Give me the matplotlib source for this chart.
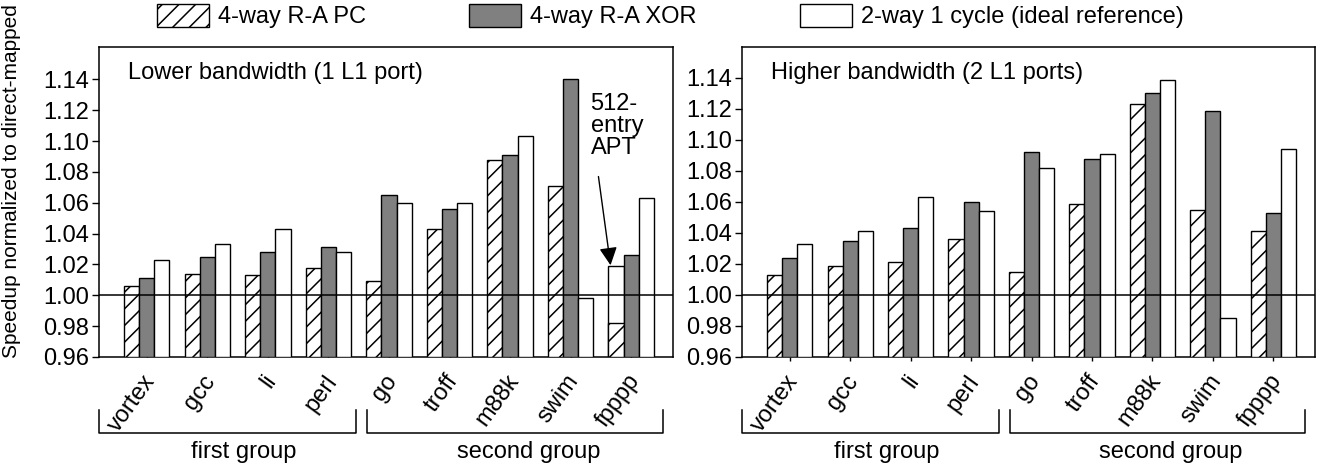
import numpy as np
import matplotlib
matplotlib.use("Agg")
import matplotlib.pyplot as plt
from matplotlib.patches import Patch
from matplotlib.ticker import FormatStrFormatter
import matplotlib.transforms as mtransforms

plt.rcParams['font.family'] = ['Liberation Sans', 'DejaVu Sans']
plt.rcParams['hatch.linewidth'] = 1.1

benchmarks = ['vortex', 'gcc', 'li', 'perl', 'go', 'troff', 'm88k', 'swim', 'fpppp']
series_names = ['4-way R-A PC', '4-way R-A XOR', '2-way 1 cycle (ideal reference)']

# lower bandwidth (1 L1 port)
low_pc = [1.006, 1.014, 1.013, 1.018, 1.009, 1.043, 1.088, 1.071, 0.982]
low_xor = [1.011, 1.025, 1.028, 1.031, 1.065, 1.056, 1.091, 1.140, 1.026]
low_ideal = [1.023, 1.033, 1.043, 1.028, 1.060, 1.060, 1.103, 0.998, 1.063]
low_apt_fpppp = 1.019  # 512-entry APT, fpppp only

# higher bandwidth (2 L1 ports)
high_pc = [1.013, 1.019, 1.021, 1.036, 1.015, 1.059, 1.123, 1.055, 1.041]
high_xor = [1.024, 1.035, 1.043, 1.060, 1.092, 1.088, 1.130, 1.119, 1.053]
high_ideal = [1.033, 1.041, 1.063, 1.054, 1.082, 1.091, 1.139, 0.985, 1.094]

group_names = ['first group', 'second group']

FS = 17
GRAY = '#808080'
BASE = 0.96

fig = plt.figure(figsize=(13.21, 4.65), dpi=100)
ax1 = fig.add_axes([0.0749, 0.2323, 0.4345, 0.6667])
ax2 = fig.add_axes([0.5617, 0.2323, 0.4338, 0.6667])


def draw(ax, pc, xor, ideal, title, top, xdir):
    x = np.arange(len(benchmarks))
    w = 0.25
    ax.bar(x - w, np.array(pc) - BASE, w, bottom=BASE, facecolor='white',
           edgecolor='black', hatch='//', lw=1.0, zorder=3)
    ax.bar(x, np.array(xor) - BASE, w, bottom=BASE, facecolor=GRAY,
           edgecolor='black', lw=1.0, zorder=3)
    ax.bar(x + w, np.array(ideal) - BASE, w, bottom=BASE, facecolor='white',
           edgecolor='black', lw=1.0, zorder=3)
    ax.axhline(1.0, color='black', lw=1.1, zorder=4)

    ax.set_xlim(-0.79, 8.69)
    ax.set_ylim(BASE, top)
    ax.set_yticks(np.arange(0.96, 1.1401, 0.02))
    ax.yaxis.set_major_formatter(FormatStrFormatter('%.2f'))
    ax.tick_params(axis='y', direction='out', length=5, width=1, labelsize=FS, pad=2)
    ax.set_xticks(x)
    ax.set_xticklabels(benchmarks, rotation=54, ha='right', va='center',
                       rotation_mode='anchor', fontsize=FS)
    if xdir == 'in':
        ax.tick_params(axis='x', direction='in', length=5, width=1, pad=14.5)
    else:
        ax.tick_params(axis='x', direction='out', length=3, width=1, pad=11.5)
    shift = mtransforms.ScaledTranslation(4 / 100, 0, fig.dpi_scale_trans)
    for lab in ax.get_xticklabels():
        lab.set_transform(lab.get_transform() + shift)
    for s in ax.spines.values():
        s.set_linewidth(1.1)

    ax.text(0.05, 0.916, title, transform=ax.transAxes, fontsize=FS, va='center')

    # group brackets under the labels
    trans = mtransforms.blended_transform_factory(ax.transData, ax.transAxes)
    spans = [(-0.79, 3.46), (3.64, 8.52)]
    centers = [1.6, 6.3]
    yt, yb = -0.170, -0.244
    for (x0, x1), xc, name in zip(spans, centers, group_names):
        ax.plot([x0, x0, x1, x1], [yt, yb, yb, yt], color='black', lw=1.1,
                transform=trans, clip_on=False)
        ax.text(xc, -0.305, name, transform=trans, ha='center', va='center', fontsize=FS)


draw(ax1, low_pc, low_xor, low_ideal, 'Lower bandwidth (1 L1 port)', 1.161, 'in')
draw(ax2, high_pc, high_xor, high_ideal, 'Higher bandwidth (2 L1 ports)', 1.16, 'out')

# 512-entry APT bar for fpppp (behind the PC bar)
ax1.bar(8 - 0.25, low_apt_fpppp - BASE, 0.25, bottom=BASE, facecolor='white',
        edgecolor='black', lw=1.0, zorder=2)
ax1.text(7.33, 1.131, '512-\nentry\nAPT', fontsize=FS, ha='left', va='top', linespacing=1.0)
ax1.annotate('', xy=(7.66, 1.0195), xytext=(7.46, 1.077),
             arrowprops=dict(arrowstyle='-|>,head_length=0.6,head_width=0.3',
                             color='black', lw=1, mutation_scale=18,
                             shrinkA=0, shrinkB=0), zorder=5)

fig.text(12 / 1321, 0.61, 'Speedup normalized to direct-mapped', rotation=90,
         ha='center', va='center', fontsize=15)

handles = [Patch(facecolor='white', edgecolor='black', hatch='//', lw=1.0),
           Patch(facecolor=GRAY, edgecolor='black', lw=1.0),
           Patch(facecolor='white', edgecolor='black', lw=1.0)]
fig.legend(handles, series_names, loc='upper left', bbox_to_anchor=(157 / 1321, 1 - 4 / 465),
           ncol=3, frameon=False, fontsize=FS, handlelength=2.2, handleheight=1.1,
           handletextpad=0.4, columnspacing=4.35, borderpad=0, borderaxespad=0)

fig.savefig('out.png', dpi=100)
